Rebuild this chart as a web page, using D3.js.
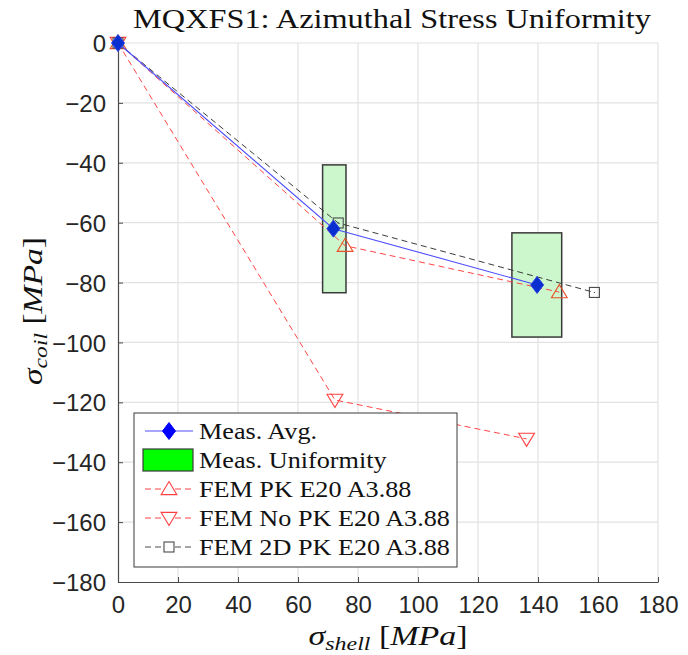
<!DOCTYPE html>
<html>
<head>
<meta charset="utf-8">
<script src="https://cdn.jsdelivr.net/npm/d3@7"></script>
<style>
  html, body { margin: 0; padding: 0; background: #fff; }
  svg { display: block; }
</style>
</head>
<body>
<svg id="chart" width="688" height="655"></svg>
<script>
// Shell stress (x) vs coil azimuthal stress (y), MPa
const avgShell = [0, 71.8, 139.7];
const avgCoil = [0, -62.0, -80.8];

// Measured uniformity ranges (min/max of shell and coil stress)
const boxShellMin = [68.2, 131.3];
const boxShellMax = [76.0, 147.9];
const boxCoilMax = [-40.7, -63.4];
const boxCoilMin = [-83.4, -98.2];

const pkShell = [0, 75.7, 147.1];
const pkCoil = [0, -67.7, -83.2];

const noPkShell = [0, 72.3, 136.2];
const noPkCoil = [0, -119.2, -132.2];

const fem2dShell = [0, 73.4, 158.8];
const fem2dCoil = [0, -60.1, -83.3];

const xTicks = [0, 20, 40, 60, 80, 100, 120, 140, 160, 180];
const yTicks = [0, -20, -40, -60, -80, -100, -120, -140, -160, -180];

const legendLabels = ["Meas. Avg.", "Meas. Uniformity", "FEM PK E20 A3.88", "FEM No PK E20 A3.88", "FEM 2D PK E20 A3.88"];

const svg = d3.select("#chart");
const serif = "'Liberation Serif', 'DejaVu Serif', serif";
const sans = "'Liberation Sans', Arial, sans-serif";

const x = d3.scaleLinear().domain([0, 180]).range([118, 658]);
const y = d3.scaleLinear().domain([-180, 0]).range([582, 43]);

// grid
const grid = svg.append("g");
grid.selectAll("line.vx").data(xTicks.slice(1)).join("line")
  .attr("x1", d => x(d)).attr("x2", d => x(d)).attr("y1", y(-180)).attr("y2", y(0))
  .attr("stroke", "#e2e2e2").attr("stroke-width", 1.2);
grid.selectAll("line.hy").data(yTicks.slice(0, -1)).join("line")
  .attr("y1", d => y(d)).attr("y2", d => y(d)).attr("x1", x(0)).attr("x2", x(180))
  .attr("stroke", "#e2e2e2").attr("stroke-width", 1.2);

// axes (ticks inward)
const xAxis = d3.axisBottom(x).tickValues(xTicks).tickSizeInner(-5).tickSizeOuter(0).tickPadding(14);
const yAxis = d3.axisLeft(y).tickValues(yTicks).tickSizeInner(-5).tickSizeOuter(0).tickPadding(12);

const gx = svg.append("g").attr("transform", `translate(0,${y(-180)})`).call(xAxis);
const gy = svg.append("g").attr("transform", `translate(${x(0)},0)`).call(yAxis);
[gx, gy].forEach(g => {
  g.select(".domain").attr("stroke", "#4a4a4a").attr("stroke-width", 1.2);
  g.selectAll(".tick line").attr("stroke", "#4a4a4a").attr("stroke-width", 1);
  g.selectAll(".tick text").attr("fill", "#262626").attr("font-family", sans).attr("font-size", 24);
});
gx.selectAll(".tick text").attr("dy", "0.71em");
gy.selectAll(".tick text").attr("dy", "0.36em");

// uniformity boxes
svg.append("g").selectAll("rect").data(boxShellMin).join("rect")
  .attr("x", (d, i) => x(d))
  .attr("y", (d, i) => y(boxCoilMax[i]))
  .attr("width", (d, i) => x(boxShellMax[i]) - x(d))
  .attr("height", (d, i) => y(boxCoilMin[i]) - y(boxCoilMax[i]))
  .attr("fill", "#ccf7cc").attr("stroke", "#3a3a3a").attr("stroke-width", 1.5);

function pts(xs, ys) { return xs.map((v, i) => [x(v), y(ys[i])]); }
const line = d3.line();

function triUp(cx, cy, s) {
  return `M${cx},${cy - s}L${cx + s * 1.05},${cy + s * 0.75}L${cx - s * 1.05},${cy + s * 0.75}Z`;
}
function triDown(cx, cy, s) {
  return `M${cx},${cy + s}L${cx + s * 1.05},${cy - s * 0.75}L${cx - s * 1.05},${cy - s * 0.75}Z`;
}
function diamond(cx, cy) {
  return `M${cx},${cy - 8.5}L${cx + 6.5},${cy}L${cx},${cy + 8.5}L${cx - 6.5},${cy}Z`;
}

const series = svg.append("g");

// FEM No PK
series.append("path").attr("d", line(pts(noPkShell, noPkCoil)))
  .attr("fill", "none").attr("stroke", "#ff4545").attr("stroke-width", 1).attr("stroke-dasharray", "6,4");
series.selectAll("path.nopk").data(pts(noPkShell, noPkCoil)).join("path").attr("class", "nopk")
  .attr("d", d => triDown(d[0], d[1], 7.5))
  .attr("fill", "none").attr("stroke", "#ff4040").attr("stroke-width", 1.1);

// FEM PK
series.append("path").attr("d", line(pts(pkShell, pkCoil)))
  .attr("fill", "none").attr("stroke", "#ff4545").attr("stroke-width", 1).attr("stroke-dasharray", "6,4");
series.selectAll("path.pk").data(pts(pkShell, pkCoil)).join("path").attr("class", "pk")
  .attr("d", d => triUp(d[0], d[1], 7.5))
  .attr("fill", "none").attr("stroke", "#e8502a").attr("stroke-width", 1.1);

// FEM 2D PK
series.append("path").attr("d", line(pts(fem2dShell, fem2dCoil)))
  .attr("fill", "none").attr("stroke", "#3c3c3c").attr("stroke-width", 1).attr("stroke-dasharray", "6,4");
const sq = series.selectAll("g.sq").data(pts(fem2dShell, fem2dCoil)).join("g").attr("class", "sq");
sq.append("rect").attr("x", d => d[0] - 5).attr("y", d => d[1] - 5).attr("width", 10).attr("height", 10)
  .attr("fill", "none").attr("stroke", "#4a4a4a").attr("stroke-width", 1.1);
sq.append("circle").attr("cx", d => d[0]).attr("cy", d => d[1]).attr("r", 0.6).attr("fill", "#444");

// Meas. Avg.
series.append("path").attr("d", line(pts(avgShell, avgCoil)))
  .attr("fill", "none").attr("stroke", "#4f4fff").attr("stroke-width", 1.1);
series.selectAll("path.avg").data(pts(avgShell, avgCoil)).join("path").attr("class", "avg")
  .attr("d", d => diamond(d[0], d[1]))
  .attr("fill", "#0a2fd0").attr("stroke", "#2a3fe0").attr("stroke-width", 1);

// serif text widened horizontally to the metrics of the math typeface
function wideText(parent, tx, ty, anchor, size, targetWidth, rotate) {
  const g = parent.append("g");
  const t = g.append("text").attr("text-anchor", anchor)
    .attr("font-family", serif).attr("font-size", size).attr("fill", "#111");
  return {
    t,
    fit() {
      const w = t.node().getComputedTextLength();
      const k = targetWidth / w;
      g.attr("transform", `translate(${tx},${ty})` + (rotate ? ` rotate(${rotate})` : "") + ` scale(${k},1)`);
    }
  };
}

// legend
const lg = svg.append("g");
lg.append("rect").attr("x", 134).attr("y", 413).attr("width", 323).attr("height", 154)
  .attr("fill", "#fff").attr("stroke", "#3a3a3a").attr("stroke-width", 1);
const rowY = [431, 460, 489, 518, 547];
const lx1 = 145, lx2 = 193, lmid = 169;
// row 0
lg.append("line").attr("x1", lx1).attr("x2", lx2).attr("y1", rowY[0]).attr("y2", rowY[0])
  .attr("stroke", "#4f4fff").attr("stroke-width", 1.1);
lg.append("path").attr("d", diamond(lmid, rowY[0])).attr("fill", "#0000ff").attr("stroke", "#0000ff");
// row 1
lg.append("rect").attr("x", 143).attr("y", rowY[1] - 11).attr("width", 50).attr("height", 22)
  .attr("fill", "#00ff00").attr("stroke", "#3a3a3a").attr("stroke-width", 1.2);
// rows 2-4
[[rowY[2], "#ff4545"], [rowY[3], "#ff4545"], [rowY[4], "#4a4a4a"]].forEach(([yy, c]) => {
  lg.append("line").attr("x1", lx1).attr("x2", lx2).attr("y1", yy).attr("y2", yy)
    .attr("stroke", c).attr("stroke-width", 1).attr("stroke-dasharray", "6,4");
});
lg.append("path").attr("d", triUp(lmid, rowY[2], 7.5)).attr("fill", "#fff").attr("stroke", "#ff4040").attr("stroke-width", 1.1);
lg.append("path").attr("d", triDown(lmid, rowY[3], 7.5)).attr("fill", "#fff").attr("stroke", "#ff4040").attr("stroke-width", 1.1);
lg.append("rect").attr("x", lmid - 5).attr("y", rowY[4] - 5).attr("width", 10).attr("height", 10)
  .attr("fill", "#fff").attr("stroke", "#4a4a4a").attr("stroke-width", 1.1);

// legend labels share one horizontal stretch, set by the widest entry
const legendScale = (() => {
  const probe = svg.append("text").attr("font-family", serif).attr("font-size", 24).text(legendLabels[3]);
  const w = probe.node().getComputedTextLength();
  probe.remove();
  return 251 / w;
})();
legendLabels.forEach((lab, i) => {
  lg.append("text")
    .attr("transform", `translate(199,${rowY[i] + 8}) scale(${legendScale},1)`)
    .attr("font-family", serif).attr("font-size", 24).attr("fill", "#111")
    .text(lab);
});

// title
const title = wideText(svg, 392, 28, "middle", 27, 518, 0);
title.t.text("MQXFS1: Azimuthal Stress Uniformity");
title.fit();

// x axis label: σ_shell [MPa]
const xl = wideText(svg, 388, 645, "middle", 27, 159, 0);
xl.t.append("tspan").attr("font-style", "italic").text("σ");
xl.t.append("tspan").attr("font-style", "italic").attr("font-size", 19).attr("dy", 5).text("shell");
xl.t.append("tspan").attr("dy", -5).text(" [");
xl.t.append("tspan").attr("font-style", "italic").text("MPa");
xl.t.append("tspan").text("]");
xl.fit();

// y axis label: σ_coil [MPa]
const yl = wideText(svg, 42, 311, "middle", 27, 148, -90);
yl.t.append("tspan").attr("font-style", "italic").text("σ");
yl.t.append("tspan").attr("font-style", "italic").attr("font-size", 19).attr("dy", 5).text("coil");
yl.t.append("tspan").attr("dy", -5).text(" [");
yl.t.append("tspan").attr("font-style", "italic").text("MPa");
yl.t.append("tspan").text("]");
yl.fit();
</script>
</body>
</html>
